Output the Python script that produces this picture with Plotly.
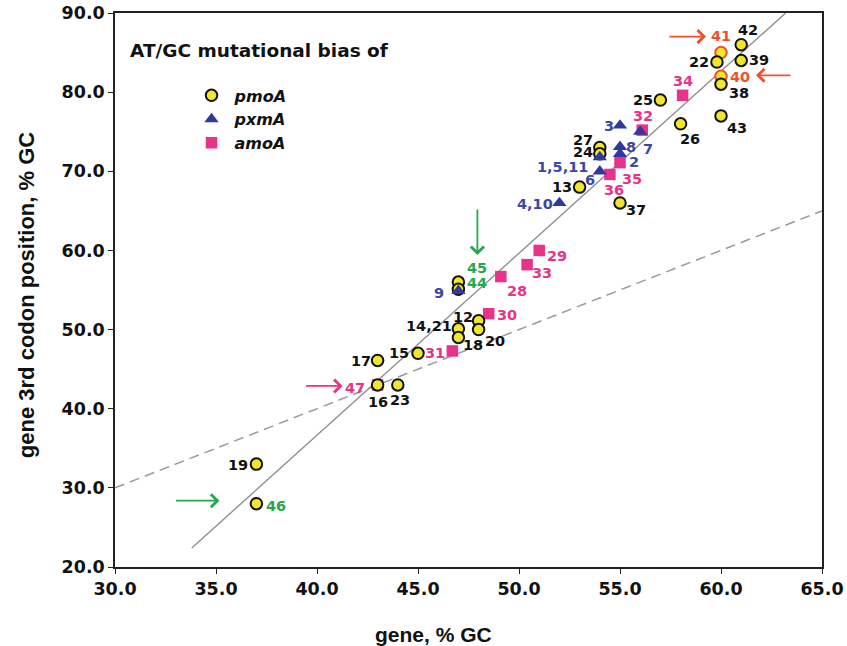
import plotly.graph_objects as go

# ---------------- data ----------------
pmoA_ids = ["42", "41", "22", "39", "40", "38", "25", "26", "43", "27", "24", "13", "37",
            "45", "44", "12", "20", "14,21", "18", "15", "17", "16", "23", "19", "46"]
pmoA_x = [61, 60, 59.8, 61, 60, 60, 57, 58, 60, 54, 54, 53, 55,
          47, 47, 48, 48, 47, 47, 45, 43, 43, 44, 37, 37]
pmoA_y = [86, 85, 83.8, 84, 82, 81, 79, 76, 77, 73, 72.2, 68, 66,
          56, 55.1, 51.1, 50, 50.1, 49, 47, 46.1, 43, 43, 33, 28]

pxmA_ids = ["3", "8", "2", "7", "1,5,11", "6", "4,10", "9"]
pxmA_x = [55, 55, 55, 56, 54, 54, 52, 47]
pxmA_y = [75.8, 73.1, 72.2, 75, 71.8, 70, 66, 54.9]

amoA_ids = ["34", "32", "35", "36", "29", "33", "28", "30", "31", "47"]
amoA_x = [58.1, 56.1, 55, 54.5, 51, 50.4, 49.1, 48.5, 46.7, 43]
amoA_y = [79.6, 75.2, 71.1, 69.6, 60, 58.2, 56.7, 52, 47.3, 43]

fit_x = [33.8, 63.2]
fit_y = [22.4, 90.0]
equal_x = [30, 65]
equal_y = [30, 65]

x_ticks = [30, 35, 40, 45, 50, 55, 60, 65]
y_ticks = [20, 30, 40, 50, 60, 70, 80, 90]

# ---------------- styles ----------------
BLACK = "#111111"
BLUE = "#3a46a8"
PINK = "#e8338a"
GREEN = "#23a84a"
RED = "#f0502a"
YELLOW = "#f2e629"

special_color = {"41": RED, "40": RED, "45": GREEN, "44": GREEN, "46": GREEN}

# label offsets in pixels (dx right, dy down)
offsets = {
    "42": (7, -15), "41": (0, -17), "22": (-18, 0), "39": (18, 0), "40": (19, 1),
    "38": (18, 9), "25": (-17, 0), "26": (9, 15), "43": (16, 12), "27": (-17, -8),
    "24": (-17, -2), "13": (-18, 0), "37": (16, 7), "45": (19, -14), "44": (19, -6),
    "12": (-16, -4), "20": (16, 11), "14,21": (-29, -3), "18": (15, 8), "15": (-19, 0),
    "17": (-17, 1), "16": (0, 17), "23": (2, 15), "19": (-18, 1), "46": (20, 2),
    "3": (-11, 1), "8": (11, 0), "7": (8, 17), "1,5,11": (-37, 10), "2": (14, 8),
    "6": (-10, 9), "4,10": (-24, 1), "9": (-19, 2),
    "34": (0, -14), "32": (1, -14), "35": (12, 16), "36": (4, 16), "29": (18, 6),
    "33": (15, 8), "28": (16, 14), "30": (18, 1), "31": (-17, 2), "47": (-23, 3),
}

FONT = "DejaVu Sans"

fig = go.Figure()

# reference lines
fig.add_trace(go.Scatter(x=equal_x, y=equal_y, mode="lines", showlegend=False,
                         line=dict(color="#9a9a9a", width=1.5, dash="10px,6px"),
                         hoverinfo="skip"))
fig.add_trace(go.Scatter(x=fit_x, y=fit_y, mode="lines", showlegend=False,
                         line=dict(color="#8a8a8a", width=1.3), hoverinfo="skip"))

# series (draw order: amoA, pmoA, pxmA)
fig.add_trace(go.Scatter(x=amoA_x, y=amoA_y, mode="markers", name="<b><i>amoA</i></b>",
                         marker=dict(symbol="square", size=11.5, color=PINK,
                                     line=dict(width=0)), legendrank=3))
fig.add_trace(go.Scatter(x=pmoA_x, y=pmoA_y, mode="markers", name="<b><i>pmoA</i></b>",
                         marker=dict(symbol="circle", size=11.5, color=YELLOW,
                                     line=dict(width=2, color=[RED if i in ("40", "41") else BLACK
                                                               for i in pmoA_ids])),
                         legendrank=1))
fig.add_trace(go.Scatter(x=pxmA_x, y=pxmA_y, mode="markers", name="<b><i>pxmA</i></b>",
                         marker=dict(symbol="triangle-up", size=12.5, color="#2f3a9e",
                                     line=dict(width=0)), legendrank=2))

annotations = []


def add_labels(ids, xs, ys, default_color):
    for i, x, y in zip(ids, xs, ys):
        dx, dy = offsets[i]
        annotations.append(dict(
            x=x, y=y, xref="x", yref="y", text=i, showarrow=False,
            xshift=dx, yshift=-dy, xanchor="center", yanchor="middle",
            font=dict(family=FONT, size=14.5, color=special_color.get(i, default_color),
                      weight="bold")))


add_labels(pmoA_ids, pmoA_x, pmoA_y, BLACK)
add_labels(pxmA_ids, pxmA_x, pxmA_y, BLUE)
add_labels(amoA_ids, amoA_x, amoA_y, PINK)


def arrow_to(ident, ids, xs, ys, shift, tail, color):
    k = ids.index(ident)
    annotations.append(dict(
        x=xs[k], y=ys[k], xref="x", yref="y", text="", showarrow=True,
        xshift=shift[0], yshift=-shift[1], ax=tail[0], ay=tail[1],
        arrowhead=4, arrowsize=1.4, arrowwidth=1.8, arrowcolor=color))


arrow_to("41", pmoA_ids, pmoA_x, pmoA_y, (-15, -16), (-38, 0), RED)
arrow_to("40", pmoA_ids, pmoA_x, pmoA_y, (35, -1), (36, 0), RED)
arrow_to("45", pmoA_ids, pmoA_x, pmoA_y, (19, -27), (0, -47), GREEN)
arrow_to("47", amoA_ids, amoA_x, amoA_y, (-35, 1), (-38, 0), PINK)
arrow_to("46", pmoA_ids, pmoA_x, pmoA_y, (-37, -3), (-45, 0), GREEN)

annotations.append(dict(
    x=0.018, y=0.933, xref="paper", yref="paper", text="AT/GC mutational bias of",
    showarrow=False, xanchor="left", yanchor="middle",
    font=dict(family=FONT, size=18.5, color=BLACK, weight="bold")))

# axis titles
annotations.append(dict(
    x=0.45, y=-0.121, xref="paper", yref="paper", text="gene, % GC",
    showarrow=False, xanchor="center", yanchor="middle",
    font=dict(family="Liberation Sans", size=21, color=BLACK, weight="bold")))
annotations.append(dict(
    x=-0.125, y=0.49, xref="paper", yref="paper", text="gene 3rd codon position, % GC",
    showarrow=False, xanchor="center", yanchor="middle", textangle=-90,
    font=dict(family="Liberation Sans", size=22, color=BLACK, weight="bold")))

axis_common = dict(
    showgrid=False, zeroline=False, showline=True, linecolor="#222", linewidth=1.5,
    mirror=True, ticks="outside", ticklen=5, tickwidth=1.3, tickcolor="#222",
    tickformat=".1f", automargin=False, ticklabeloverflow="allow",
    tickfont=dict(family=FONT, size=17.5, color=BLACK, weight="bold"),
)

fig.update_layout(
    width=847, height=646,
    margin=dict(l=115, r=25, t=13, b=79),
    plot_bgcolor="white", paper_bgcolor="white",
    xaxis=dict(range=[30, 65], tickvals=x_ticks, **axis_common),
    yaxis=dict(range=[20, 90], tickvals=y_ticks, **axis_common),
    legend=dict(x=0.104, y=0.882, xanchor="left", yanchor="top", itemwidth=36,
                bgcolor="rgba(0,0,0,0)", tracegroupgap=0,
                font=dict(family=FONT, size=16, color=BLACK)),
    annotations=annotations,
)

# remove the browser's default page margin so the figure fills the window exactly
fig.write_html("out.html", config={"displayModeBar": False},
               post_script="document.body.style.margin='0';")
